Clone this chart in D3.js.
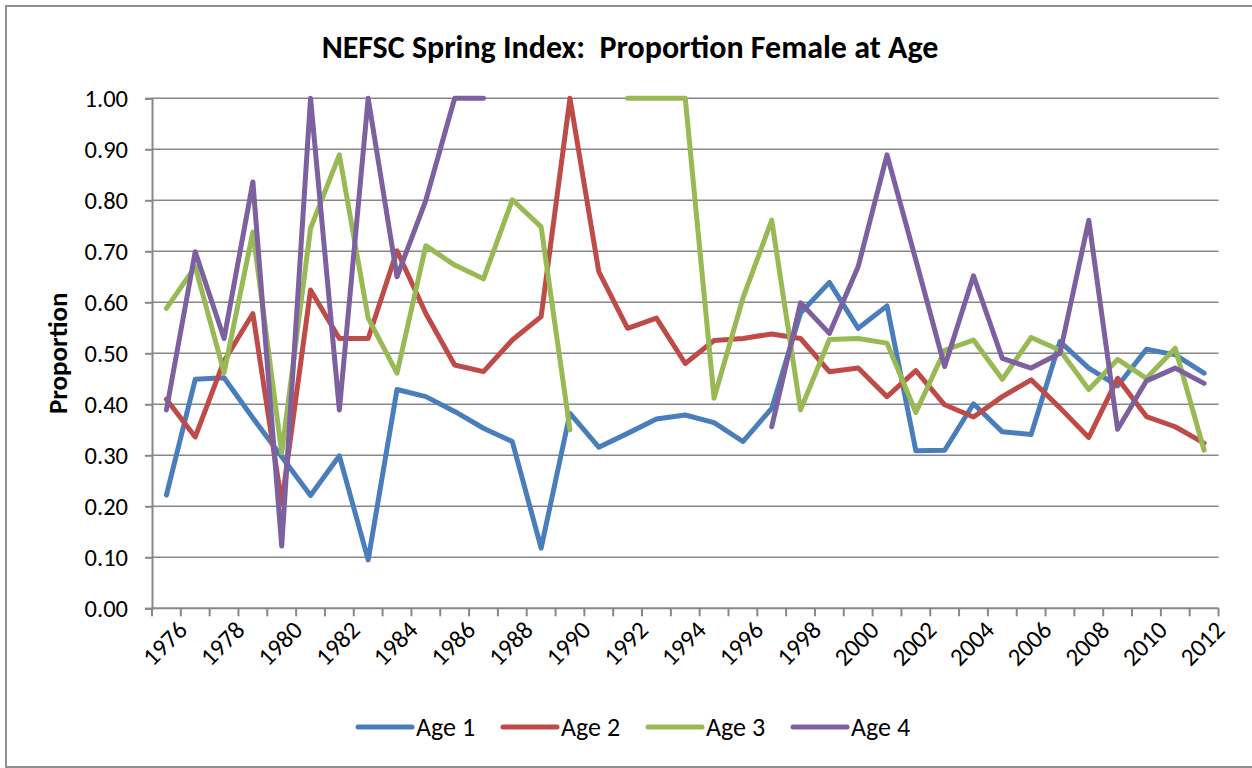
<!DOCTYPE html>
<html>
<head>
<meta charset="utf-8">
<script src="https://cdn.jsdelivr.net/npm/d3@7/dist/d3.min.js"></script>
<style>
  html, body { margin: 0; padding: 0; background: #fff; }
  svg { display: block; }
  text { font-family: Carlito, "Liberation Sans Narrow", Lato, sans-serif; fill: #000; white-space: pre; }
</style>
</head>
<body>
<svg id="chart" width="1252" height="768"></svg>
<script>
// Survey years on the category axis
const years = d3.range(1976, 2013);

// Proportion female at age (null = no estimate that year)
const age1 = [0.222, 0.449, 0.452, 0.373, 0.297, 0.221, 0.299, 0.095, 0.429, 0.415,
              0.386, 0.353, 0.327, 0.118, 0.382, 0.316, 0.343, 0.371, 0.379, 0.364,
              0.327, 0.392, 0.579, 0.639, 0.549, 0.593, 0.309, 0.310, 0.401, 0.346,
              0.341, 0.523, 0.471, 0.436, 0.508, 0.497, 0.461];
const age2 = [0.410, 0.336, 0.485, 0.578, 0.206, 0.624, 0.529, 0.529, 0.701, 0.578,
              0.477, 0.464, 0.526, 0.572, 1.000, 0.660, 0.549, 0.569, 0.480, 0.525,
              0.529, 0.538, 0.529, 0.464, 0.471, 0.415, 0.466, 0.399, 0.375, 0.415,
              0.448, 0.393, 0.335, 0.451, 0.376, 0.356, 0.324];
const age3 = [0.588, 0.670, 0.462, 0.738, 0.305, 0.745, 0.889, 0.569, 0.461, 0.711,
              0.673, 0.646, 0.801, 0.748, 0.350, null, 1.000, 1.000, 1.000, 0.412,
              0.608, 0.761, 0.389, 0.527, 0.529, 0.520, 0.384, 0.506, 0.526, 0.449,
              0.531, 0.506, 0.429, 0.488, 0.451, 0.510, 0.310];
const age4 = [0.389, 0.699, 0.529, 0.836, 0.122, 1.000, 0.389, 1.000, 0.650, 0.800,
              1.000, 1.000, null, null, null, null, null, null, null, null,
              null, 0.356, 0.599, 0.539, 0.670, 0.889, 0.683, 0.474, 0.652, 0.490,
              0.471, 0.500, 0.761, 0.351, 0.446, 0.471, 0.441];

const seriesNames = ["Age 1", "Age 2", "Age 3", "Age 4"];
const seriesValues = [age1, age2, age3, age4];
const seriesColors = ["#4a7ebb", "#be4b48", "#98b954", "#7d60a0"];

const yTicks = [0, 0.1, 0.2, 0.3, 0.4, 0.5, 0.6, 0.7, 0.8, 0.9, 1.0];
const xLabelYears = years.filter(y => y % 2 === 0);

const title = "NEFSC Spring Index:  Proportion Female at Age";
const yTitle = "Proportion";

const svg = d3.select("#chart");
const W = 1252, H = 768;
const plot = { left: 152, right: 1218.5, top: 98.3, bottom: 608.3 };
const gridColor = "#878787";

// outer chart frame
svg.append("rect")
  .attr("x", 6).attr("y", 6)
  .attr("width", W + 4).attr("height", 761)
  .attr("fill", "#fff")
  .attr("stroke", "#8f8f8f").attr("stroke-width", 2);

const x = d3.scaleBand().domain(years).range([plot.left, plot.right]).padding(0);
const y = d3.scaleLinear().domain([0, 1]).range([plot.bottom, plot.top]);

// horizontal gridlines
svg.append("g")
  .selectAll("line")
  .data(yTicks.slice(1))
  .join("line")
  .attr("x1", plot.left).attr("x2", plot.right)
  .attr("y1", d => y(d)).attr("y2", d => y(d))
  .attr("stroke", gridColor).attr("stroke-width", 1.6);

// y axis
const yAxis = svg.append("g")
  .attr("transform", `translate(${plot.left},0)`)
  .call(d3.axisLeft(y).tickValues(yTicks).tickFormat(d3.format(".2f")).tickSize(7).tickPadding(17));
yAxis.select(".domain").attr("stroke", gridColor).attr("stroke-width", 2);
yAxis.selectAll(".tick line").attr("stroke", gridColor).attr("stroke-width", 2);
yAxis.selectAll(".tick text")
  .attr("font-size", 24.5).attr("font-family", null).attr("fill", "#000");

// x axis: tick marks at category boundaries
const xAxisG = svg.append("g").attr("transform", `translate(0,${plot.bottom})`);
xAxisG.append("line")
  .attr("x1", plot.left).attr("x2", plot.right)
  .attr("stroke", gridColor).attr("stroke-width", 2);
const boundaries = years.map(d => x(d)).concat([x(years[years.length - 1]) + x.bandwidth()]);
xAxisG.selectAll("line.tk")
  .data(boundaries)
  .join("line").attr("class", "tk")
  .attr("x1", d => d).attr("x2", d => d)
  .attr("y1", 0).attr("y2", 8)
  .attr("stroke", gridColor).attr("stroke-width", 2);

// rotated year labels
xAxisG.selectAll("text")
  .data(xLabelYears)
  .join("text")
  .attr("transform", d => `translate(${x(d) + x.bandwidth() / 2 + 16},${17}) rotate(-45)`)
  .attr("text-anchor", "end")
  .attr("dy", "0.35em")
  .attr("font-size", 25)
  .text(d => d);

// series lines
const line = d3.line()
  .defined(d => d.v !== null)
  .x(d => x(d.year) + x.bandwidth() / 2)
  .y(d => y(d.v));

svg.append("g")
  .selectAll("path")
  .data(seriesValues.map((vals, i) => ({ i, pts: years.map((yr, j) => ({ year: yr, v: vals[j] })) })))
  .join("path")
  .attr("d", d => line(d.pts))
  .attr("fill", "none")
  .attr("stroke", d => seriesColors[d.i])
  .attr("stroke-width", 5)
  .attr("stroke-linejoin", "round")
  .attr("stroke-linecap", "round");

// title
svg.append("text")
  .attr("x", 630).attr("y", 58)
  .attr("text-anchor", "middle")
  .attr("font-size", 32).attr("font-weight", "bold")
  .text(title);

// y axis title
svg.append("text")
  .attr("transform", `translate(67,${(plot.top + plot.bottom) / 2}) rotate(-90)`)
  .attr("text-anchor", "middle")
  .attr("font-size", 27).attr("font-weight", "bold")
  .text(yTitle);

// legend: equal-width entries
const legend = svg.append("g").attr("transform", "translate(358,727)");
seriesNames.forEach((name, i) => {
  const g = legend.append("g").attr("transform", `translate(${i * 145},0)`);
  g.append("line")
    .attr("x1", 0).attr("x2", 54).attr("y1", 0).attr("y2", 0)
    .attr("stroke", seriesColors[i]).attr("stroke-width", 5).attr("stroke-linecap", "round");
  g.append("text")
    .attr("x", 58).attr("dy", "0.35em")
    .attr("font-size", 26)
    .text(name);
});
</script>
</body>
</html>
